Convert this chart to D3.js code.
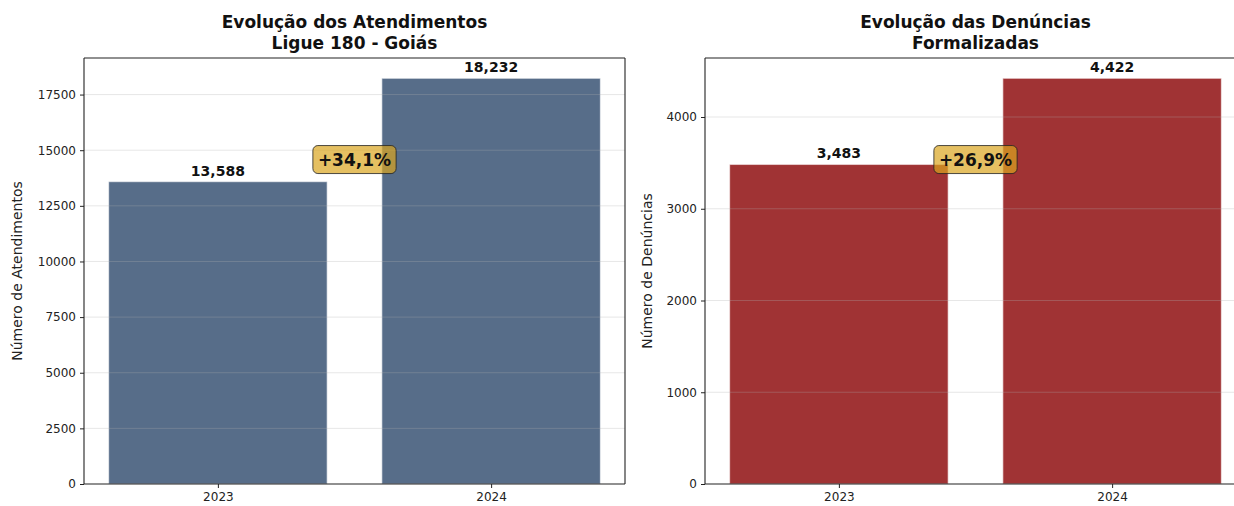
<!DOCTYPE html>
<html>
<head>
<meta charset="utf-8">
<script src="https://cdn.jsdelivr.net/npm/d3@7"></script>
<style>
  body { margin: 0; background: #fff; }
  svg text { font-family: "DejaVu Sans", sans-serif; }
</style>
</head>
<body>
<svg id="chart" width="1234" height="506"></svg>
<script>
const years = ["2023", "2024"];
const atendimentos = [13588, 18232];
const denuncias = [3483, 4422];
const atendTicks = [0, 2500, 5000, 7500, 10000, 12500, 15000, 17500];
const denTicks = [0, 1000, 2000, 3000, 4000];
const variacoes = ["+34,1%", "+26,9%"];

const svg = d3.select("#chart");
const fmt = d3.format(",");

function drawPanel(opts) {
  const { left, right, top, bottom, values, ticks, color, title, ylabel, labelGap, badge, allSpines } = opts;
  const g = svg.append("g");

  const x = d3.scaleLinear().domain([-0.49, 1.49]).range([left, right]);
  const y = d3.scaleLinear().domain([0, d3.max(values) * 1.05]).range([bottom, top]);
  const bw = x(0.8) - x(0);

  // bars
  g.selectAll("rect.bar")
    .data(values)
    .join("rect")
    .attr("class", "bar")
    .attr("x", (d, i) => x(i) - bw / 2)
    .attr("y", d => y(d))
    .attr("width", bw)
    .attr("height", d => y(0) - y(d))
    .attr("fill", color)
    .attr("stroke", "#fff")
    .attr("stroke-opacity", 0.55)
    .attr("stroke-width", 1.2);

  // grid on top of bars, faint
  g.selectAll("line.grid")
    .data(ticks.filter(t => t > 0))
    .join("line")
    .attr("x1", left).attr("x2", right)
    .attr("y1", d => y(d)).attr("y2", d => y(d))
    .attr("stroke", "#b0b0b0")
    .attr("stroke-opacity", 0.3)
    .attr("stroke-width", 1);

  // y axis
  const yAxis = d3.axisLeft(y).tickValues(ticks).tickFormat(d3.format("d")).tickSize(4).tickPadding(4);
  const ya = g.append("g").attr("transform", `translate(${left},0)`).call(yAxis);
  ya.select(".domain").remove();
  ya.selectAll("text").attr("font-size", 12).attr("fill", "#222");
  ya.selectAll("line").attr("stroke", "#222");

  // x axis
  const xAxis = d3.axisBottom(x).tickValues([0, 1]).tickFormat(i => years[i]).tickSize(4).tickPadding(4);
  const xa = g.append("g").attr("transform", `translate(0,${bottom})`).call(xAxis);
  xa.select(".domain").remove();
  xa.selectAll("text").attr("font-size", 12).attr("fill", "#222");
  xa.selectAll("line").attr("stroke", "#222");

  // spines
  const sp = g.append("g").attr("stroke", "#222").attr("stroke-width", 1.1).attr("fill", "none");
  sp.append("line").attr("x1", left).attr("x2", left).attr("y1", top).attr("y2", bottom);
  sp.append("line").attr("x1", left).attr("x2", right).attr("y1", bottom).attr("y2", bottom);
  sp.append("line").attr("x1", left).attr("x2", right).attr("y1", top).attr("y2", top);
  if (allSpines) sp.append("line").attr("x1", right).attr("x2", right).attr("y1", top).attr("y2", bottom);

  // value labels
  g.selectAll("text.val")
    .data(values)
    .join("text")
    .attr("class", "val")
    .attr("x", (d, i) => x(i))
    .attr("y", d => y(d) - 6)
    .attr("text-anchor", "middle")
    .attr("font-size", 14)
    .attr("font-weight", "bold")
    .attr("fill", "#111")
    .text(d => fmt(d));

  // title
  const cx = (left + right) / 2;
  const t = g.append("text")
    .attr("x", cx).attr("y", 28)
    .attr("text-anchor", "middle")
    .attr("font-size", 17)
    .attr("font-weight", "bold")
    .attr("fill", "#111");
  title.forEach((line, i) => t.append("tspan").attr("x", cx).attr("dy", i ? 21 : 0).text(line));

  // y label
  g.append("text")
    .attr("transform", `translate(${left - labelGap},${(top + bottom) / 2}) rotate(-90)`)
    .attr("text-anchor", "middle")
    .attr("font-size", 14)
    .attr("fill", "#222")
    .text(ylabel);

  // percentage badge
  const bx = x(0.5);
  const by = y(d3.max(values) * 0.8);
  const bg = g.append("g");
  const rect = bg.append("rect");
  const bt = bg.append("text")
    .attr("x", bx).attr("y", by)
    .attr("dy", "0.36em")
    .attr("text-anchor", "middle")
    .attr("font-size", 17)
    .attr("font-weight", "bold")
    .attr("fill", "#111")
    .text(badge);
  const bb = bt.node().getBBox();
  const pad = 5;
  rect.attr("x", bb.x - pad).attr("y", bb.y - pad + 1)
    .attr("width", bb.width + 2 * pad).attr("height", bb.height + 2 * pad - 2)
    .attr("rx", 5)
    .attr("fill", "#daa520").attr("fill-opacity", 0.7)
    .attr("stroke", "#222").attr("stroke-opacity", 0.8).attr("stroke-width", 1);
}

drawPanel({
  left: 84, right: 625, top: 58, bottom: 484,
  values: atendimentos, ticks: atendTicks, color: "#576d89",
  title: ["Evolução dos Atendimentos", "Ligue 180 - Goiás"],
  ylabel: "Número de Atendimentos", labelGap: 62, badge: variacoes[0], allSpines: true
});

drawPanel({
  left: 705, right: 1246, top: 58, bottom: 484,
  values: denuncias, ticks: denTicks, color: "#a03334",
  title: ["Evolução das Denúncias", "Formalizadas"],
  ylabel: "Número de Denúncias", labelGap: 53, badge: variacoes[1], allSpines: true
});
</script>
</body>
</html>
